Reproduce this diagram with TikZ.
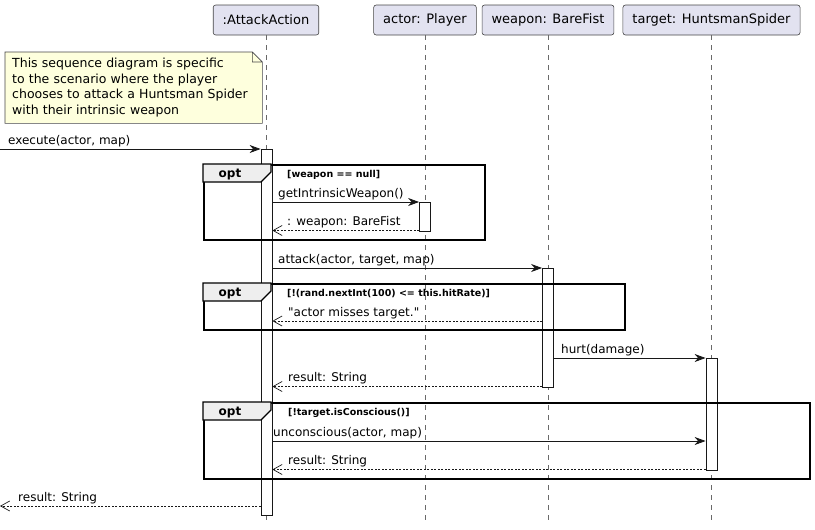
\documentclass[tikz,border=0pt]{standalone}
\usepackage{fontspec}
\setmainfont{DejaVu Sans}
\newfontfamily\plainquote{DejaVu Sans}
\usetikzlibrary{shapes,arrows.meta,positioning,calc}
\definecolor{ink}{HTML}{181818}
\definecolor{partfill}{HTML}{E2E2F0}
\definecolor{notefill}{HTML}{FEFFDD}
\definecolor{tabgray}{HTML}{EEEEEE}

\begin{document}
\begin{tikzpicture}[
    x=1pt, y=-1pt,
    part/.style={rectangle, draw=ink!80, fill=partfill, rounded corners=2.5pt, minimum height=30pt, inner xsep=9.5pt, line width=0.6pt, font=\fontsize{13}{15}\selectfont},
    act/.style={rectangle, draw=ink, fill=white, minimum width=11pt, inner sep=0pt, line width=0.8pt, anchor=north},
    life/.style={draw=ink!65, line width=0.6pt, dash pattern=on 5pt off 5pt},
    msg/.style={draw=ink, line width=0.8pt, -{Stealth[length=11pt, width=8pt, inset=3.5pt]}},
    ret/.style={draw=ink, line width=0.7pt, dash pattern=on 2pt off 1.5pt, -{Straight Barb[length=9pt, width=10pt]}},
    lbl/.style={anchor=base west, inner sep=0pt, font=\fontsize{12}{14}\selectfont},
    guard/.style={anchor=base west, inner sep=0pt, font=\bfseries\fontsize{9.5}{11}\selectfont},
    optbox/.style={rectangle, draw=black, line width=1.5pt, anchor=north west, inner sep=0pt},
    optab/.style={draw=black, fill=tabgray, line width=1.2pt},
    notebox/.style={rectangle, fill=notefill, anchor=north west, text width=243pt, minimum height=71pt, inner xsep=7pt, align=left, font=\fontsize{12.5}{15.7}\selectfont}
]
\useasboundingbox (0,0) rectangle (815,530);

% participants
\node[part] (aa) at (266,20) {:AttackAction};
\node[part] (pl) at (425,20) {actor: Player};
\node[part] (wp) at (548,20) {weapon: BareFist};
\node[part] (tg) at (711.5,20) {target: HuntsmanSpider};

\coordinate (bottom) at (0,522);
\foreach \p in {aa,pl,wp,tg}
    \draw[life] (\p.south) -- (\p.south |- bottom);

% note
\node[notebox] (note) at (5,52) {This sequence diagram is specific\\to the scenario where the player\\chooses to attack a Huntsman Spider\\with their intrinsic weapon};
\fill[white] ([xshift=-10pt]note.north east) -- (note.north east) -- ([yshift=-10pt]note.north east) -- cycle;
\draw[ink!80, line width=0.6pt] (note.north west) -- ([xshift=-10pt]note.north east) -- ([yshift=-10pt]note.north east) -- (note.south east) -- (note.south west) -- cycle
    ([xshift=-10pt]note.north east) |- ([yshift=-10pt]note.north east);

% activations
\node[act, minimum height=366pt] (aaA) at (266.5,149) {};
\node[act, minimum height=29pt] (plA) at (425,202) {};
\node[act, minimum height=118.5pt] (wpA) at (548,268) {};
\node[act, minimum height=112pt] (tgA) at (711.5,358) {};

% opt frames
\node[optbox, minimum width=281pt, minimum height=75pt] (opt1) at (203,164) {};
\node[optbox, minimum width=421pt, minimum height=46pt] (opt2) at (203,283) {};
\node[optbox, minimum width=606pt, minimum height=76pt] (opt3) at (203,402) {};
\foreach \f in {opt1,opt2,opt3} {
    \draw[optab] (\f.north west) -- ++(68,0) -- ++(0,8) -- ++(-10,10) -- ++(-58,0) -- cycle;
    \node[font=\bfseries\fontsize{12}{14}\selectfont, anchor=base] (\f-tag) at ($(\f.north west)+(27,13)$) {opt};
}
\node[guard] (g1) at ($(opt1.north west)+(84,13)$) {[weapon == null]};
\node[guard] (g2) at ($(opt2.north west)+(84,13)$) {[!(rand.nextInt(100) <= this.hitRate)]};
\node[guard] (g3) at ($(opt3.north west)+(85,13)$) {[!target.isConscious()]};

% message rows
\coordinate (in) at (0,149);
\coordinate (m1) at (0,202);
\coordinate (m2) at (0,230.5);
\coordinate (m3) at (0,268);
\coordinate (m4) at (0,321);
\coordinate (m5) at (0,358);
\coordinate (m6) at (0,386.5);
\coordinate (m7) at (0,441);
\coordinate (m8) at (0,469.5);
\coordinate (out) at (0,506);

\draw[msg] (in) -- (aaA.west |- in);
\draw[msg] (aaA.east |- m1) -- (plA.west |- m1);
\draw[ret] (plA.west |- m2) -- (aaA.east |- m2);
\draw[msg] (aaA.east |- m3) -- (wpA.west |- m3);
\draw[ret] (wpA.west |- m4) -- (aaA.east |- m4);
\draw[msg] (wpA.east |- m5) -- (tgA.west |- m5);
\draw[ret] (wpA.west |- m6) -- (aaA.east |- m6);
\draw[msg] (aaA.east |- m7) -- (tgA.west |- m7);
\draw[ret] (tgA.west |- m8) -- (aaA.east |- m8);
\draw[ret] (aaA.west |- out) -- (out);

% message labels
\node[lbl] (l0) at (8,144) {execute(actor, map)};
\node[lbl] (l1) at (278,197) {getIntrinsicWeapon()};
\node[lbl] (l2) at (287,225.5) {: weapon: BareFist};
\node[lbl] (l3) at (278,263) {attack(actor, target, map)};
\node[lbl] (l4) at (288,316) {\plainquote "actor misses target."};
\node[lbl] (l5) at (561,353) {hurt(damage)};
\node[lbl] (l6) at (288,381.5) {result: String};
\node[lbl] (l7) at (273,436) {unconscious(actor, map)};
\node[lbl] (l8) at (288,464.5) {result: String};
\node[lbl] (l9) at (18,501) {result: String};
\end{tikzpicture}
\end{document}
